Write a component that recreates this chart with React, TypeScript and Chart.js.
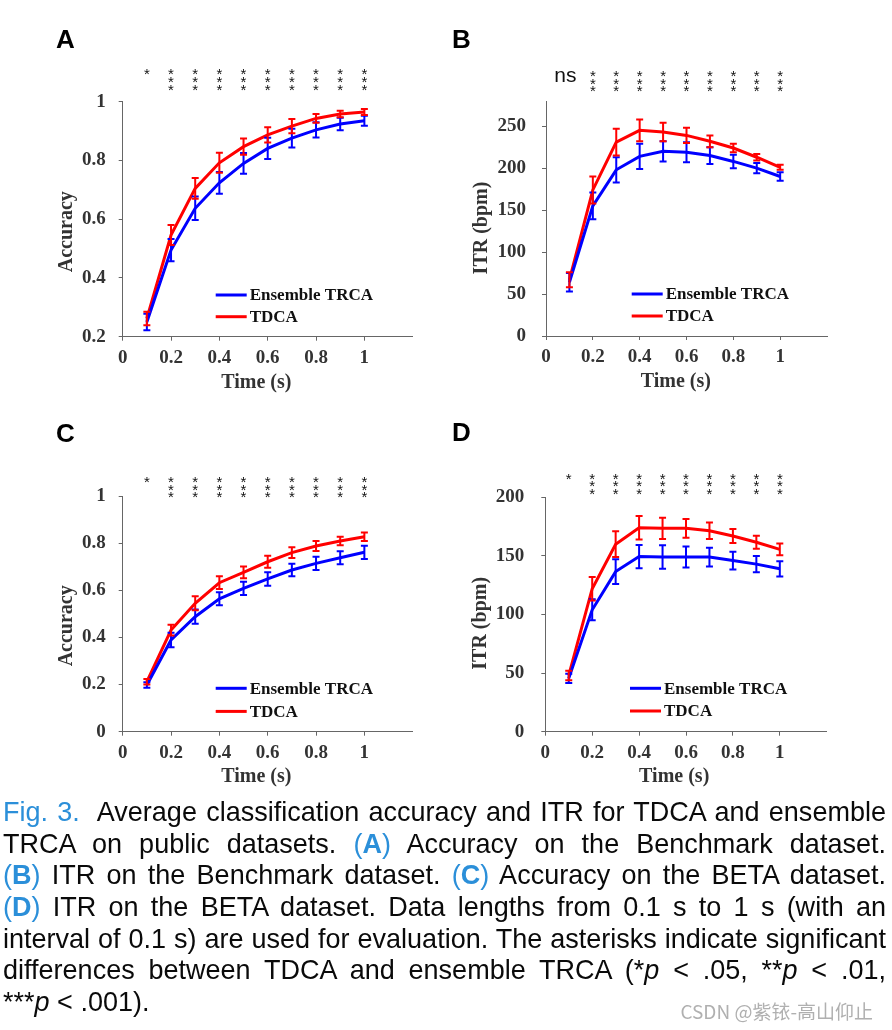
import React, { useEffect, useRef } from 'react';
import { Chart, registerables } from 'chart.js';

Chart.register(...registerables);

// ---------- data ----------
const TIMES = [0.1, 0.2, 0.3, 0.4, 0.5, 0.6, 0.7, 0.8, 0.9, 1.0];
const SERIES_NAMES = ['Ensemble TRCA', 'TDCA'];
const SERIES_COLORS = ['#0000ff', '#ff0000'];
const X_TICKS = [0, 0.2, 0.4, 0.6, 0.8, 1];

// Panel A: accuracy, Benchmark
const A_TRCA = [0.25, 0.495, 0.637, 0.724, 0.79, 0.841, 0.876, 0.904, 0.924, 0.935];
const A_TRCA_ERR = [0.028, 0.038, 0.04, 0.037, 0.035, 0.036, 0.032, 0.026, 0.021, 0.017];
const A_TDCA = [0.262, 0.546, 0.705, 0.792, 0.847, 0.887, 0.917, 0.943, 0.958, 0.965];
const A_TDCA_ERR = [0.023, 0.034, 0.035, 0.034, 0.028, 0.026, 0.024, 0.015, 0.011, 0.01];
const A_SIG = ['*', '***', '***', '***', '***', '***', '***', '***', '***', '***'];
const A_Y_TICKS = [0.2, 0.4, 0.6, 0.8, 1];

// Panel B: ITR, Benchmark
const B_TRCA = [64, 155, 198, 214, 220, 219, 215, 208, 200, 190];
const B_TRCA_ERR = [11, 16, 15, 15, 12, 12, 10, 8, 6, 5];
const B_TDCA = [67, 174, 231, 245, 243, 239, 232, 224, 213, 201];
const B_TDCA_ERR = [9, 16, 16, 13, 11, 9, 7, 5, 4, 3];
const B_SIG = ['ns', '***', '***', '***', '***', '***', '***', '***', '***', '***'];
const B_Y_TICKS = [0, 50, 100, 150, 200, 250];

// Panel C: accuracy, BETA
const C_TRCA = [0.198, 0.389, 0.488, 0.564, 0.608, 0.648, 0.686, 0.714, 0.738, 0.761];
const C_TRCA_ERR = [0.012, 0.031, 0.03, 0.028, 0.028, 0.029, 0.027, 0.028, 0.028, 0.028];
const C_TDCA = [0.212, 0.431, 0.545, 0.632, 0.676, 0.721, 0.76, 0.788, 0.809, 0.827];
const C_TDCA_ERR = [0.012, 0.023, 0.03, 0.027, 0.025, 0.025, 0.023, 0.021, 0.018, 0.018];
const C_SIG = ['*', '***', '***', '***', '***', '***', '***', '***', '***', '***'];
const C_Y_TICKS = [0, 0.2, 0.4, 0.6, 0.8, 1];

// Panel D: ITR, BETA
const D_TRCA = [45.5, 104, 136.6, 149.4, 149, 149, 149, 146, 143, 139];
const D_TRCA_ERR = [4, 9, 10.5, 10, 10, 9, 8, 7.5, 7, 6.5];
const D_TDCA = [48, 122, 160, 174, 173.5, 173.5, 171.5, 167, 161.6, 155.6];
const D_TDCA_ERR = [4, 10, 11, 10, 9, 8, 7, 6, 5.5, 5];
const D_SIG = ['*', '***', '***', '***', '***', '***', '***', '***', '***', '***'];
const D_Y_TICKS = [0, 50, 100, 150, 200];

const SERIF = '"Liberation Serif", "Times New Roman", serif';
const SANS = '"Liberation Sans", Arial, sans-serif';

type Panel = {
  left: number; top: number; width: number; height: number;
  yWidth: number; padRight: number; padTop: number; xHeight: number; yPad: number;
  yMin: number; yMax: number; yTicks: number[];
  trca: number[]; trcaErr: number[]; tdca: number[]; tdcaErr: number[]; sig: string[];
  starRows: number[]; nsY: number;
  legendX: number; legendRows: number[];
  yTitle: string; yTitlePos: [number, number]; xTitlePos: [number, number];
};

const PANELS: Panel[] = [
  {
    left: 40, top: 40, width: 400, height: 370,
    yWidth: 82.7, padRight: 27.3, padTop: 61.7, xHeight: 73.3, yPad: 13,
    yMin: 0.2, yMax: 1, yTicks: A_Y_TICKS,
    trca: A_TRCA, trcaErr: A_TRCA_ERR, tdca: A_TDCA, tdcaErr: A_TDCA_ERR, sig: A_SIG,
    starRows: [-31.7, -23.7, -15.7], nsY: -23,
    legendX: 93, legendRows: [-41.7, -20],
    yTitle: 'Accuracy', yTitlePos: [66.7, 231.7], xTitlePos: [256.3, 383],
  },
  {
    left: 460, top: 40, width: 390, height: 370,
    yWidth: 86, padRight: 23, padTop: 61, xHeight: 74, yPad: 16,
    yMin: 0, yMax: 280, yTicks: B_Y_TICKS,
    trca: B_TRCA, trcaErr: B_TRCA_ERR, tdca: B_TDCA, tdcaErr: B_TDCA_ERR, sig: B_SIG,
    starRows: [-28.8, -21, -13.2], nsY: -24.3,
    legendX: 85.7, legendRows: [-42, -20],
    yTitle: 'ITR (bpm)', yTitlePos: [481.7, 228], xTitlePos: [675.8, 381.7],
  },
  {
    left: 40, top: 430, width: 400, height: 370,
    yWidth: 82.7, padRight: 27.3, padTop: 66, xHeight: 68.3, yPad: 13,
    yMin: 0, yMax: 1, yTicks: C_Y_TICKS,
    trca: C_TRCA, trcaErr: C_TRCA_ERR, tdca: C_TDCA, tdcaErr: C_TDCA_ERR, sig: C_SIG,
    starRows: [-17.7, -10, -2.3], nsY: -10,
    legendX: 93, legendRows: [-43.4, -20.3],
    yTitle: 'Accuracy', yTitlePos: [66.7, 625.8], xTitlePos: [256.3, 776.7],
  },
  {
    left: 460, top: 430, width: 390, height: 370,
    yWidth: 85.3, padRight: 23.3, padTop: 67.3, xHeight: 68.3, yPad: 17,
    yMin: 0, yMax: 200, yTicks: D_Y_TICKS,
    trca: D_TRCA, trcaErr: D_TRCA_ERR, tdca: D_TDCA, tdcaErr: D_TDCA_ERR, sig: D_SIG,
    starRows: [-22.3, -14.6, -6.9], nsY: -14.6,
    legendX: 84.7, legendRows: [-43.4, -20.7],
    yTitle: 'ITR (bpm)', yTitlePos: [480.7, 623.3], xTitlePos: [674.2, 776.7],
  },
];

function makeOverlay(p: Panel) {
  return {
    id: 'overlay',
    afterDatasetsDraw(chart: any) {
      const { ctx, chartArea } = chart;
      const xs = chart.scales.x;
      const ys = chart.scales.y;
      ctx.save();
      // error bars
      chart.data.datasets.forEach((ds: any) => {
        ctx.strokeStyle = ds.borderColor;
        ctx.lineWidth = 2;
        ds.data.forEach((pt: any, i: number) => {
          const e = ds.errors[i];
          const px = xs.getPixelForValue(pt.x);
          const y1 = ys.getPixelForValue(pt.y - e);
          const y2 = ys.getPixelForValue(pt.y + e);
          ctx.beginPath();
          ctx.moveTo(px, y1); ctx.lineTo(px, y2);
          ctx.moveTo(px - 3.5, y1); ctx.lineTo(px + 3.5, y1);
          ctx.moveTo(px - 3.5, y2); ctx.lineTo(px + 3.5, y2);
          ctx.stroke();
        });
      });
      // significance marks
      ctx.fillStyle = '#111';
      ctx.textAlign = 'center';
      ctx.textBaseline = 'alphabetic';
      p.sig.forEach((s, i) => {
        const px = xs.getPixelForValue(TIMES[i]);
        if (s === 'ns') {
          ctx.font = `21px ${SANS}`;
          ctx.fillText('ns', px - 4, chartArea.top + p.nsY + 5.5);
        } else {
          ctx.font = `15px ${SANS}`;
          for (let k = 0; k < s.length; k++) {
            ctx.fillText('*', px, chartArea.top + p.starRows[k] + 8.6);
          }
        }
      });
      // legend
      SERIES_NAMES.forEach((name, i) => {
        const lx = chartArea.left + p.legendX;
        const ly = chartArea.bottom + p.legendRows[i];
        ctx.strokeStyle = SERIES_COLORS[i];
        ctx.lineWidth = 3;
        ctx.beginPath();
        ctx.moveTo(lx, ly); ctx.lineTo(lx + 31, ly);
        ctx.stroke();
        ctx.fillStyle = '#111';
        ctx.font = `bold 17px ${SERIF}`;
        ctx.textAlign = 'left';
        ctx.textBaseline = 'middle';
        ctx.fillText(name, lx + 34, ly + 1);
      });
      // axis titles
      ctx.fillStyle = '#333';
      ctx.font = `bold 20px ${SERIF}`;
      ctx.textAlign = 'center';
      ctx.textBaseline = 'middle';
      ctx.fillText('Time (s)', p.xTitlePos[0] - p.left, p.xTitlePos[1] - p.top);
      ctx.save();
      ctx.translate(p.yTitlePos[0] - p.left, p.yTitlePos[1] - p.top);
      ctx.rotate(-Math.PI / 2);
      ctx.fillText(p.yTitle, 0, 0);
      ctx.restore();
      ctx.restore();
    },
  };
}

function ChartPanel({ p }: { p: Panel }) {
  const ref = useRef<HTMLCanvasElement>(null);
  useEffect(() => {
    if (!ref.current) return;
    const axisColor = '#666';
    const tickFont = { family: SERIF, weight: 'bold' as const, size: 19 };
    const chart = new Chart(ref.current, {
      type: 'line',
      data: {
        datasets: [
          {
            label: SERIES_NAMES[0],
            data: TIMES.map((t, i) => ({ x: t, y: p.trca[i] })),
            borderColor: SERIES_COLORS[0],
            borderWidth: 3,
            pointRadius: 0,
            tension: 0,
            fill: false,
            errors: p.trcaErr,
          } as any,
          {
            label: SERIES_NAMES[1],
            data: TIMES.map((t, i) => ({ x: t, y: p.tdca[i] })),
            borderColor: SERIES_COLORS[1],
            borderWidth: 3,
            pointRadius: 0,
            tension: 0,
            fill: false,
            errors: p.tdcaErr,
          } as any,
        ],
      },
      options: {
        responsive: false,
        animation: false,
        devicePixelRatio: 1,
        layout: { padding: { left: 0, right: p.padRight, top: p.padTop, bottom: 0 } },
        plugins: { legend: { display: false }, tooltip: { enabled: false } },
        scales: {
          x: {
            type: 'linear',
            min: 0,
            max: 1.2,
            afterBuildTicks: (s: any) => { s.ticks = X_TICKS.map((v) => ({ value: v })); },
            afterFit: (s: any) => { s.height = p.xHeight; },
            grid: { display: true, drawOnChartArea: false, drawTicks: true, tickLength: 4, color: axisColor, lineWidth: 1 },
            border: { display: true, color: axisColor, width: 1 },
            ticks: { font: tickFont, color: '#333', padding: 6, maxRotation: 0, autoSkip: false, callback: (v: any) => String(v) },
          },
          y: {
            type: 'linear',
            min: p.yMin,
            max: p.yMax,
            afterBuildTicks: (s: any) => { s.ticks = p.yTicks.map((v) => ({ value: v })); },
            afterFit: (s: any) => { s.width = p.yWidth; },
            grid: { display: true, drawOnChartArea: false, drawTicks: true, tickLength: 4, color: axisColor, lineWidth: 1 },
            border: { display: true, color: axisColor, width: 1 },
            ticks: { font: tickFont, color: '#333', padding: p.yPad, autoSkip: false, callback: (v: any) => String(v) },
          },
        },
      },
      plugins: [makeOverlay(p)],
    } as any);
    return () => chart.destroy();
  }, [p]);
  return (
    <canvas
      ref={ref}
      width={p.width}
      height={p.height}
      style={{ position: 'absolute', left: p.left, top: p.top, width: p.width, height: p.height }}
    />
  );
}

const LETTERS: [string, number, number][] = [
  ['A', 56, 26.3],
  ['B', 452, 26.3],
  ['C', 56, 419.7],
  ['D', 452, 419],
];

const BLUE = '#2b8fd9';

export default function App() {
  const lineStyle: React.CSSProperties = {
    textAlign: 'justify',
    textAlignLast: 'justify' as any,
    height: 31.6,
    lineHeight: '31.6px',
    whiteSpace: 'normal',
  };
  const b = (t: string) => (
    <span style={{ color: BLUE }}>(<b style={{ fontWeight: 'bold' }}>{t}</b>)</span>
  );
  return (
    <div style={{ position: 'absolute', left: 0, top: 0, width: 892, height: 1030, background: '#fff', overflow: 'hidden' }}>
      {PANELS.map((p, i) => <ChartPanel key={i} p={p} />)}
      {LETTERS.map(([t, x, y]) => (
        <div key={t} style={{ position: 'absolute', left: x, top: y, font: `bold 26px ${SANS}`, lineHeight: '26px', color: '#000' }}>{t}</div>
      ))}
      <div
        style={{
          position: 'absolute', left: 3, top: 796.2, width: 915,
          transform: 'scaleX(0.965)', transformOrigin: '0 0',
          font: `28px ${SANS}`, color: '#0a0a0a',
        }}
      >
        <div style={lineStyle}><span style={{ color: BLUE }}>Fig. 3.</span>&nbsp; Average classification accuracy and ITR for TDCA and ensemble</div>
        <div style={lineStyle}>TRCA on public datasets. {b('A')} Accuracy on the Benchmark dataset.</div>
        <div style={lineStyle}>{b('B')} ITR on the Benchmark dataset. {b('C')} Accuracy on the BETA dataset.</div>
        <div style={lineStyle}>{b('D')} ITR on the BETA dataset. Data lengths from 0.1 s to 1 s (with an</div>
        <div style={lineStyle}>interval of 0.1 s) are used for evaluation. The asterisks indicate significant</div>
        <div style={lineStyle}>differences between TDCA and ensemble TRCA (*<i>p</i> &lt; .05, **<i>p</i> &lt; .01,</div>
        <div style={{ ...lineStyle, textAlignLast: 'left' as any }}>***<i>p</i> &lt; .001).</div>
      </div>
      <div
        style={{
          position: 'absolute', right: 19, top: 1000,
          font: `19px "Noto Sans CJK SC", "Noto Sans", sans-serif`, color: '#b0b0b0', lineHeight: '22px',
        }}
      >
        CSDN @紫铱-高山仰止
      </div>
    </div>
  );
}
